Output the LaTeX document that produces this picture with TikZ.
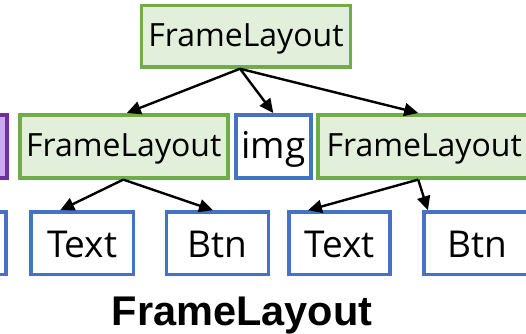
\documentclass[tikz,border=0pt]{standalone}
\usepackage{fontspec}
\setmainfont{Open Sans}
\newfontfamily\captionfont{Liberation Sans}
\usetikzlibrary{arrows.meta}

\definecolor{layoutgreen}{HTML}{70AD47}
\definecolor{layoutfill}{HTML}{E2EFDA}
\definecolor{viewblue}{HTML}{4472C4}
\definecolor{groupviolet}{HTML}{7030A0}
\definecolor{groupfill}{HTML}{C9ABEE}

\tikzset{
  box/.style={draw, line width=3.6pt, inner sep=0pt, align=center},
  layoutbox/.style={box, draw=layoutgreen, fill=layoutfill,
    minimum height=63pt, font=\fontsize{32}{32}\selectfont,
    text height=24pt, text depth=3pt},
  viewbox/.style={box, draw=viewblue, fill=white,
    minimum height=62.5pt, font=\fontsize{37}{37}\selectfont,
    text height=30pt, text depth=2pt},
  groupbox/.style={box, draw=groupviolet, fill=groupfill, minimum height=63pt},
  link/.style={draw=black, line width=2.4pt,
    -{Triangle[length=14pt,width=13pt]}},
}

\begin{document}
\begin{tikzpicture}[x=1pt, y=-1pt]
  \useasboundingbox (0,0) rectangle (526,333);
  \clip (0,0) rectangle (526,333);

  % root container
  \node[layoutbox, minimum width=209pt, minimum height=61.5pt] (root) at (246,36.2) {FrameLayout};

  % second level
  \node[groupbox, minimum width=208pt] (group) at (-97.2,146.3) {};
  \node[layoutbox, minimum width=208pt] (left) at (123.8,146.3) {FrameLayout};
  \node[viewbox, minimum width=75pt, minimum height=63pt,
        text height=24pt, text depth=-4pt] (img) at (273.3,146.3) {img};
  \node[layoutbox, minimum width=212pt] (right) at (424.2,146.3) {FrameLayout};

  % leaves
  \node[viewbox, minimum width=102pt] (edge) at (-45.2,243.3) {};
  \node[viewbox, minimum width=102.7pt] (text1) at (82.2,243.3) {Text};
  \node[viewbox, minimum width=102pt] (btn1) at (217.5,243.3) {Btn};
  \node[viewbox, minimum width=101.4pt] (text2) at (339.5,243.3) {Text};
  \node[viewbox, minimum width=106pt] (btn2) at (477.2,243.3) {Btn};

  % caption
  \node[anchor=base, inner sep=0pt,
        font=\captionfont\bfseries\fontsize{41.5}{41.5}\selectfont] (caption) at (242,325) {FrameLayout};

  % hierarchy links
  \draw[link] ([xshift=-6pt]root.south) -- ([xshift=3pt]left.north);
  \draw[link] ([xshift=-6pt]root.south) -- (img.north);
  \draw[link] ([xshift=-6pt]root.south) -- ([xshift=-6pt]right.north);
  \draw[link] ([xshift=-0.5pt]left.south) -- ([xshift=-22pt]text1.north);
  \draw[link] ([xshift=-0.5pt]left.south) -- ([xshift=-4.5pt]btn1.north);
  \draw[link] ([xshift=-6pt]right.south) -- ([xshift=-31.5pt]text2.north);
  \draw[link] ([xshift=-6pt]right.south) -- ([xshift=5.5pt]btn2.north west);
\end{tikzpicture}
\end{document}
